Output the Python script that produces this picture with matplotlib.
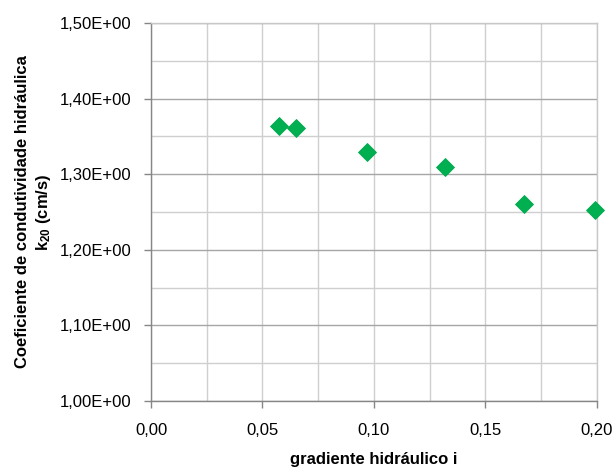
import matplotlib
matplotlib.use('Agg')
import numpy as np
import matplotlib.pyplot as plt
from matplotlib.ticker import MultipleLocator, FuncFormatter

#==========================================================
# Data
#==========================================================
grad_i = [0.0575, 0.0649, 0.0970, 0.1320, 0.1674, 0.1993]
k20 = [1.364, 1.361, 1.329, 1.3095, 1.2606, 1.252]

x_label = 'gradiente hidráulico i'
y_label = 'Coeficiente de condutividade hidráulica\nk$_{20}$ (cm/s)'

#==========================================================
# plot
#==========================================================
plt.rcParams['font.family'] = ['Liberation Sans', 'DejaVu Sans']
plt.rcParams['mathtext.fontset'] = 'custom'
plt.rcParams['mathtext.rm'] = 'Liberation Sans:bold'
plt.rcParams['mathtext.it'] = 'Liberation Sans:bold'

fig = plt.figure(figsize=(6.14, 4.68), dpi=100)
ax = fig.add_axes([0.246, 0.143, 0.726, 0.808])

ax.plot(grad_i, k20, linestyle='none', marker='D', markersize=9.2,
        color='#00b050', markeredgecolor='#00a850', markeredgewidth=0.6,
        zorder=6, clip_on=False)

ax.set_xlim([0, 0.2])
ax.set_ylim([1.0, 1.5])

ax.xaxis.set_major_locator(MultipleLocator(0.05))
ax.xaxis.set_minor_locator(MultipleLocator(0.025))
ax.yaxis.set_major_locator(MultipleLocator(0.1))
ax.yaxis.set_minor_locator(MultipleLocator(0.05))

ax.xaxis.set_major_formatter(FuncFormatter(lambda v, p: ('%.2f' % v).replace('.', ',')))
ax.yaxis.set_major_formatter(FuncFormatter(lambda v, p: ('%.2fE+00' % v).replace('.', ',')))

ax.grid(which='minor', color='#cfcfcf', linewidth=1.0, zorder=1)
ax.grid(which='major', axis='x', color='#cfcfcf', linewidth=1.0, zorder=1)
ax.grid(which='major', axis='y', color='#a6a6a6', linewidth=1.0, zorder=2)
ax.set_axisbelow(True)

for s in ['top', 'right']:
    ax.spines[s].set_color('#c8c8c8')
    ax.spines[s].set_linewidth(1.0)
for s in ['left', 'bottom']:
    ax.spines[s].set_color('#868686')
    ax.spines[s].set_linewidth(1.0)

ax.tick_params(which='major', labelsize=12, direction='out', length=5, width=1.0,
               color='#868686', labelcolor='black')
ax.tick_params(which='minor', length=0)
ax.tick_params(axis='y', pad=9)
ax.tick_params(axis='x', pad=11)

ax.set_xlabel(x_label, fontsize=12, fontweight='bold', labelpad=10)
ax.set_ylabel(y_label, fontsize=12, fontweight='bold', labelpad=5, linespacing=1.3)

plt.savefig('out.png', dpi=100)
